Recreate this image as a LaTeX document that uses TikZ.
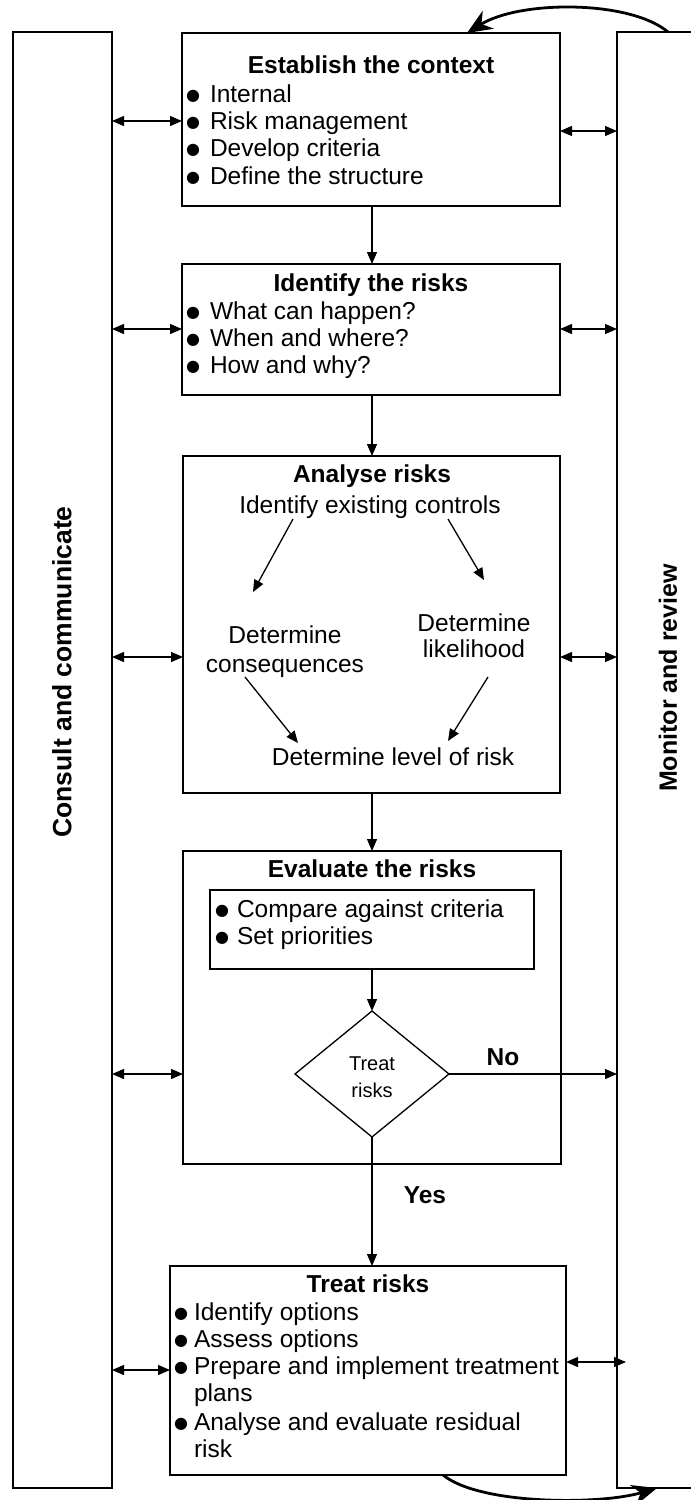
\documentclass[tikz,border=0pt]{standalone}
\usepackage{fontspec}
\setmainfont{Liberation Sans}
\newfontfamily\dejavu{DejaVu Sans}
\usetikzlibrary{arrows.meta,shapes.geometric}
\newcommand\bul[1][24pt]{\makebox[#1][l]{\raisebox{2pt}{\dejavu\fontsize{16}{16}\selectfont ●}}}
\tikzset{
  box/.style={draw, line width=1.3pt, rectangle, inner sep=0pt, outer sep=0pt, anchor=north west},
  txt/.style={inner sep=0pt, outer sep=0pt, anchor=base west, font=\fontsize{24.5}{27}\selectfont},
  ctr/.style={txt, anchor=base},
  ttl/.style={ctr, font=\fontsize{24.5}{27}\selectfont\bfseries},
  side/.style={inner sep=0pt, rotate=90, font=\fontsize{26.5}{28}\selectfont\bfseries},
  arr/.style={line width=1.3pt, -{Triangle[length=12pt,width=10pt]}},
  darr/.style={line width=1.3pt, {Triangle[length=12pt,width=10pt]}-{Triangle[length=12pt,width=10pt]}},
  curv/.style={line width=2.8pt, -{Stealth[length=25pt,width=21pt,inset=8pt]}},
}
\begin{document}
\begin{tikzpicture}[x=1pt,y=-1pt]
\useasboundingbox (0,0) rectangle (691,1500);
% columns
\node[box, minimum width=99pt, minimum height=1456pt] (lcol) at (13,32) {};
\node[box, minimum width=100pt, minimum height=1456pt] (rcol) at (617,32) {};
\node[side] (lbl) at (62,672) {Consult and communicate};
\node[side, font=\fontsize{25}{27}\selectfont\bfseries] (rlbl) at (668,678) {Monitor and review};
% boxes
\node[box, minimum width=378pt, minimum height=173pt] (est) at (182,33) {};
\node[box, minimum width=378pt, minimum height=131pt] (ident) at (182,264) {};
\node[box, minimum width=377pt, minimum height=337pt] (anal) at (183,456) {};
\node[box, minimum width=378pt, minimum height=313pt] (eval) at (183,851) {};
\node[box, minimum width=324pt, minimum height=79pt] (crit) at (210,890) {};
\node[draw, diamond, line width=1.3pt, inner sep=0pt, outer sep=0pt, minimum width=154pt, minimum height=126pt] (dia) at (372,1074) {};
\node[box, minimum width=396pt, minimum height=209pt] (treat) at (170,1266) {};
% coordinates for connector levels
\coordinate (cx) at (372,0);
\coordinate (y1) at (0,121);
\coordinate (y1r) at (0,131);
\coordinate (y2) at (0,329);
\coordinate (y3) at (0,657);
\coordinate (y4) at (0,1074);
\coordinate (y5) at (0,1370);
\coordinate (y5r) at (0,1362);
% establish
\node[ttl] (t1) at (371,73) {Establish the context};
\node[txt] (e1) at (186,102) {\bul Internal};
\node[txt] (e2) at (186,129) {\bul Risk management};
\node[txt] (e3) at (186,156) {\bul Develop criteria};
\node[txt] (e4) at (186,184) {\bul Define the structure};
% identify
\node[ttl] (t2) at (371,291) {Identify the risks};
\node[txt] (i1) at (186,319) {\bul What can happen?};
\node[txt] (i2) at (186,346) {\bul When and where?};
\node[txt] (i3) at (186,373) {\bul How and why?};
% analyse
\node[ttl] (t3) at (372,482) {Analyse risks};
\node[ctr] (a0) at (370,513) {Identify existing controls};
\node[ctr] (a1) at (285,643) {Determine};
\node[ctr] (a1b) at (285,672) {consequences};
\node[ctr] (a2) at (474,631) {Determine};
\node[ctr] (a2b) at (474,657) {likelihood};
\node[ctr] (a3) at (393,765) {Determine level of risk};
\coordinate (p1s) at (293,519); \coordinate (p1e) at (253,592);
\coordinate (p2s) at (448,519); \coordinate (p2e) at (484,580);
\coordinate (p3s) at (245,677); \coordinate (p3e) at (298,743);
\coordinate (p4s) at (488,677); \coordinate (p4e) at (448,741);
\draw[arr] (p1s) -- (p1e);
\draw[arr] (p2s) -- (p2e);
\draw[arr] (p3s) -- (p3e);
\draw[arr] (p4s) -- (p4e);
% evaluate
\node[ttl] (t4) at (372,877) {Evaluate the risks};
\node[txt] (c1) at (215,917) {\bul[22pt]Compare against criteria};
\node[txt] (c2) at (215,944) {\bul[22pt]Set priorities};
\node[ctr, font=\fontsize{20}{22}\selectfont] (d1) at (372,1070) {Treat};
\node[ctr, font=\fontsize{20}{22}\selectfont] (d2) at (372,1097) {risks};
\node[ttl] (no) at (503,1065) {No};
\node[ttl] (yes) at (425,1203) {Yes};
% treat
\node[ttl] (t5) at (368,1292) {Treat risks};
\node[txt] (r1) at (174,1320) {\bul[20pt]Identify options};
\node[txt] (r2) at (174,1347) {\bul[20pt]Assess options};
\node[txt] (r3) at (174,1374) {\bul[20pt]Prepare and implement treatment};
\node[txt] (r3b) at (194,1401) {plans};
\node[txt] (r4) at (174,1430) {\bul[20pt]Analyse and evaluate residual};
\node[txt] (r4b) at (194,1457) {risk};
% main flow
\draw[arr] (est.south -| cx) -- (ident.north -| cx);
\draw[arr] (ident.south -| cx) -- (anal.north -| cx);
\draw[arr] (anal.south -| cx) -- (eval.north -| cx);
\draw[arr] (crit.south -| dia.north) -- (dia.north);
\draw[arr] (dia.south) -- (treat.north -| dia.south);
\draw[arr] (dia.east) -- (rcol.west |- dia.east);
% left double arrows
\draw[darr] (lcol.east |- y1) -- (est.west |- y1);
\draw[darr] (lcol.east |- y2) -- (ident.west |- y2);
\draw[darr] (lcol.east |- y3) -- (anal.west |- y3);
\draw[darr] (lcol.east |- y4) -- (eval.west |- y4);
\draw[darr] (lcol.east |- y5) -- (treat.west |- y5);
% right double arrows
\draw[darr] (est.east |- y1r) -- (rcol.west |- y1r);
\draw[darr] (ident.east |- y2) -- (rcol.west |- y2);
\draw[darr] (anal.east |- y3) -- (rcol.west |- y3);
\draw[darr] (treat.east |- y5r) -- ([xshift=9pt]rcol.west |- y5r);
% loop arrows
\draw[curv] ([xshift=51pt]rcol.north west) .. controls (630,0) and (520,0) .. ([xshift=285pt]est.north west);
\draw[curv] ([xshift=273pt]treat.south west) .. controls (480,1505) and (600,1505) .. ([xshift=40pt]rcol.south west);
\end{tikzpicture}
\end{document}
